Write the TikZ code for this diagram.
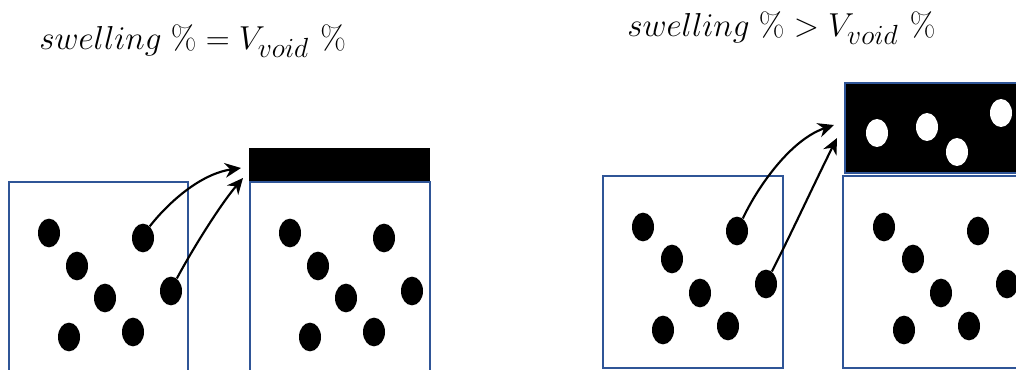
\documentclass[tikz,border=0pt]{standalone}
\usetikzlibrary{shapes.geometric,arrows.meta}
\definecolor{boxblue}{RGB}{47,85,151}
\begin{document}
\begin{tikzpicture}[x=0.75pt,y=-0.75pt,
  dot/.style={ellipse,fill=black,draw=none,inner sep=0pt,minimum width=16.5pt,minimum height=21.5pt},
  void/.style={ellipse,fill=white,draw=none,inner sep=0pt,minimum width=16.5pt,minimum height=21pt},
  cell/.style={draw=boxblue,line width=1.4pt},
  arr/.style={line width=1.6pt,-{Stealth[length=12pt,width=11pt]}},
  title/.style={anchor=base west,inner sep=0pt,font=\fontsize{28.5}{34}\selectfont}]
\useasboundingbox (0,0) rectangle (1016,370);
\clip (0,0) rectangle (1016,370);
% titles
\node[title] (t1) at (39,50) {$swelling\;\%=V_{void}\ \%$};
\node[title] (t2) at (627,37) {$swelling\;\%>V_{void}\ \%$};
% left panel
\draw[cell] (9,182) rectangle (188,380);
\fill[black] (249,148) rectangle (430,182);
\draw[cell] (250,182) rectangle (430,380);
\foreach \n/\x/\y in {a/49/233,b/77/266,c/105/298,d/69/337,e/133/332,f/143/238,g/171/291}{
  \node[dot] (L\n) at (\x,\y) {};
  \node[dot] (M\n) at (\x+241,\y) {};
}
\coordinate (tipL1) at (241,168);
\coordinate (tipL2) at (243,178);
\draw[arr] (Lf.60) .. controls (168,203) and (200,174) .. (tipL1);
\draw[arr] (Lg.65) .. controls (192,250) and (220,205) .. (tipL2);
% right panel
\draw[cell] (603,176) rectangle (783,368);
\draw[cell,fill=black] (845,83) rectangle (1030,173);
\draw[cell] (843,176) rectangle (1030,368);
\foreach \n/\x/\y in {a/643/227,b/672/259,c/700/293,d/663/330,e/728/326,f/737/231,g/766/284}{
  \node[dot] (R\n) at (\x,\y) {};
  \node[dot] (S\n) at (\x+241,\y) {};
}
\node[void] (v1) at (877,133) {};
\node[void] (v2) at (927,127) {};
\node[void] (v3) at (957,152) {};
\node[void] (v4) at (1001,113) {};
\coordinate (tipR1) at (834,125);
\coordinate (tipR2) at (837,138);
\draw[arr] (Rf.65) .. controls (757,188) and (790,140) .. (tipR1);
\draw[arr] (Rg.65) .. controls (792,232) and (815,182) .. (tipR2);
\end{tikzpicture}
\end{document}
